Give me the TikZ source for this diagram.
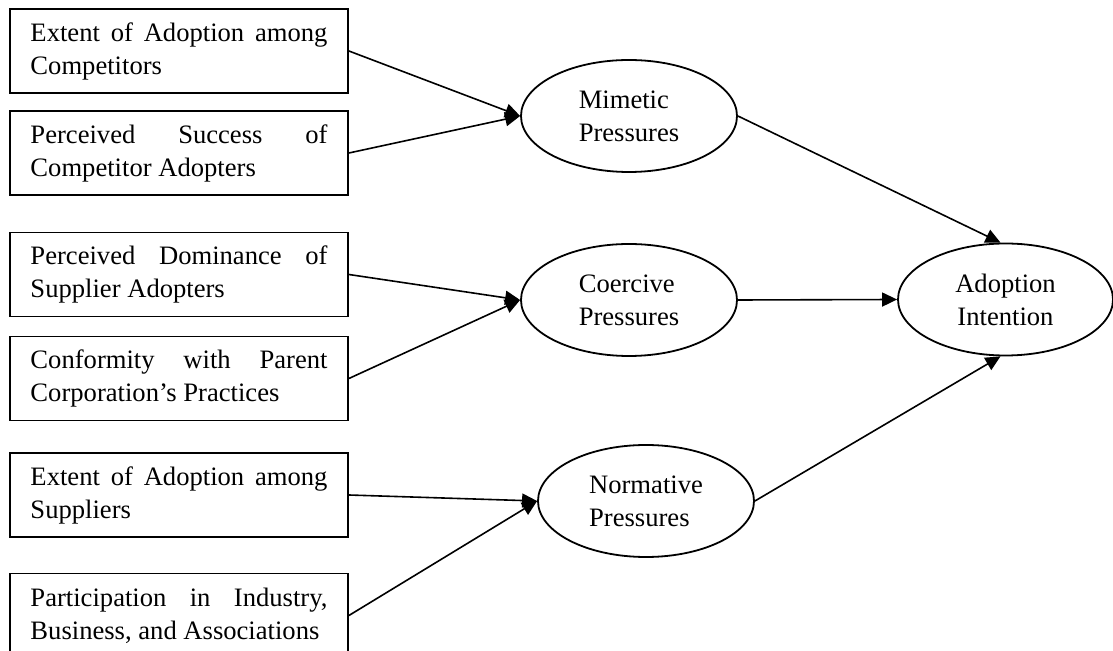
\documentclass[tikz,border=0pt]{standalone}
\usepackage{fontspec}
\setmainfont{Liberation Serif}
\usetikzlibrary{shapes.geometric,arrows.meta}
\begin{document}
\begin{tikzpicture}[x=0.5pt,y=-0.5pt,
  every node/.style={font=\fontsize{13.3pt}{16.5pt}\selectfont},
  inbox/.style={draw,line width=0.9pt,rectangle,minimum width=169pt,minimum height=42pt,text width=148.5pt,inner xsep=10pt,inner ysep=0pt,align=justify},
  latent/.style={draw,line width=0.9pt,ellipse,minimum width=108pt,minimum height=56pt,inner sep=0pt},
  arr/.style={line width=0.8pt,-{Triangle[length=7.5pt,width=7pt]}}]
\useasboundingbox (0,0) rectangle (1113,651);
\node[inbox] (b1) at (179,51) {Extent of Adoption among\linebreak Competitors};
\node[inbox] (b2) at (179,153) {Perceived Success of\linebreak Competitor Adopters};
\node[inbox] (b3) at (179,274.5) {Perceived Dominance of\linebreak Supplier Adopters};
\node[inbox] (b4) at (179,378.5) {Conformity with Parent\linebreak Corporation’s Practices};
\node[inbox] (b5) at (179,495) {Extent of Adoption among\linebreak Suppliers};
\node[inbox] (b6) at (179,615.5) {Participation in Industry,\linebreak Business, and Associations};
\node[latent,align=left] (mim) at (629,116) {Mimetic\\Pressures};
\node[latent,align=left] (coe) at (629,300) {Coercive\\Pressures};
\node[latent,align=left] (nor) at (646,501) {Normative\\Pressures};
\node[latent,align=center,minimum width=107.5pt] (ado) at (1005.5,299.5) {Adoption\\Intention};
\draw[arr] (b1.east) -- (mim.west);
\draw[arr] (b2.east) -- (mim.west);
\draw[arr] (b3.east) -- (coe.west);
\draw[arr] (b4.east) -- (coe.west);
\draw[arr] (b5.east) -- (nor.west);
\draw[arr] (b6.east) -- (nor.west);
\draw[arr] (mim.east) -- (ado.95);
\draw[arr] (coe.east) -- (ado.west);
\draw[arr] (nor.east) -- (ado.265);
\end{tikzpicture}
\end{document}
